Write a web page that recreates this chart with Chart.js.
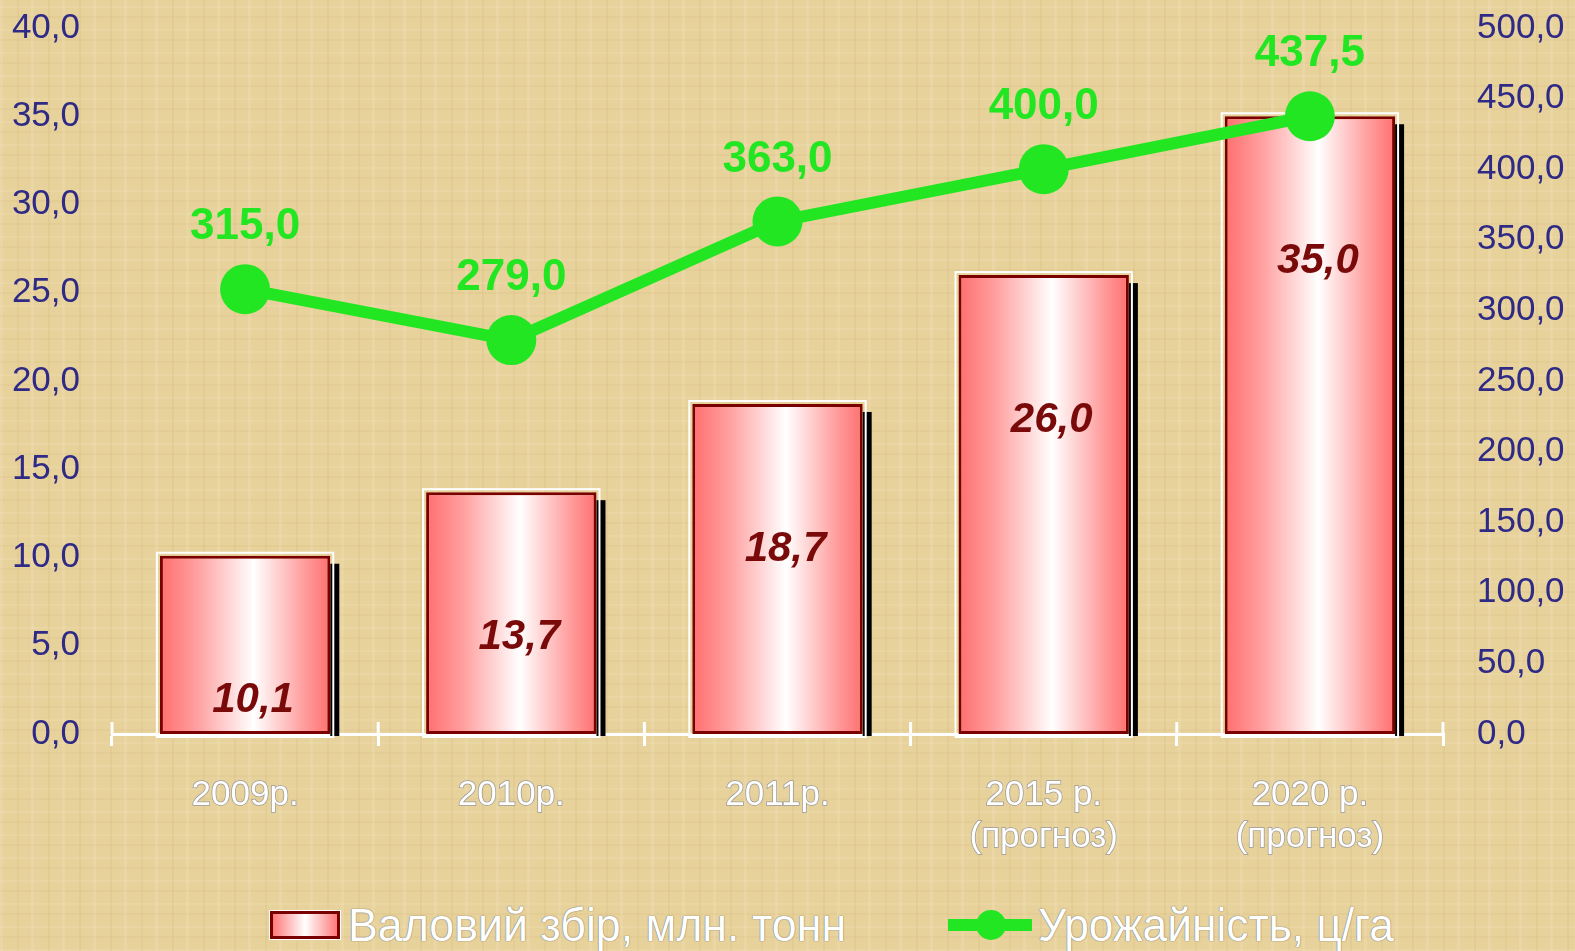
<!DOCTYPE html>
<html lang="uk">
<head>
<meta charset="UTF-8">
<title>Валовий збір та урожайність</title>
<style>
    html, body {
        margin: 0;
        padding: 0;
        width: 1575px;
        height: 951px;
        overflow: hidden;
    }
    body {
        position: relative;
        background-color: #e8d29b;
        background-image:
            repeating-linear-gradient(90deg, rgba(255,255,255,0.10) 0 3px, rgba(0,0,0,0) 3px 17px, rgba(150,110,40,0.06) 17px 19px, rgba(0,0,0,0) 19px 31px),
            repeating-linear-gradient(0deg, rgba(255,255,255,0.08) 0 2px, rgba(0,0,0,0) 2px 13px, rgba(150,110,40,0.05) 13px 15px, rgba(0,0,0,0) 15px 23px);
        font-family: Arial, "Liberation Sans", sans-serif;
    }
    #chart {
        position: absolute;
        left: 0;
        top: 0;
    }
    .legend-item {
        position: absolute;
        top: 898px;
        height: 54px;
        display: flex;
        align-items: center;
        color: #ffffff;
        font-family: Arial, "Liberation Sans", sans-serif;
        font-size: 46px;
        white-space: nowrap;
        text-shadow: 0 0 1px #6f6f6f, 0 0 1px #6f6f6f;
    }
    .legend-item .txt {
        display: inline-block;
        transform-origin: left center;
    }
    .box {
        width: 64px;
        height: 22px;
        border: 3px solid #7a0000;
        background: linear-gradient(90deg, #ff7a7a 0%, #ffffff 50%, #ff7a7a 100%);
        margin-right: 8px;
        box-shadow: 0 0 0 1px #ffffff;
        flex: none;
    }
    .line-sym {
        position: relative;
        width: 84px;
        height: 30px;
        margin-right: 6px;
        flex: none;
    }
    .line-sym::before {
        content: "";
        position: absolute;
        left: 0;
        right: 0;
        top: 9px;
        height: 12px;
        background: #22e622;
    }
    .line-sym::after {
        content: "";
        position: absolute;
        left: 28px;
        top: 0;
        width: 30px;
        height: 30px;
        border-radius: 50%;
        background: #22e622;
    }
</style>
</head>
<body>
<canvas id="chart" width="1575" height="890"></canvas>
<div class="legend-item" style="left: 270px;"><span class="box"></span><span class="txt" data-w="498">Валовий збір, млн. тонн</span></div>
<div class="legend-item" style="left: 948px;"><span class="line-sym"></span><span class="txt" data-w="356">Урожайність, ц/га</span></div>

<script src="https://cdn.jsdelivr.net/npm/chart.js"></script>
<script>
    const categories = [['2009р.'], ['2010р.'], ['2011р.'], ['2015 р.', '(прогноз)'], ['2020 р.', '(прогноз)']];
    const grossHarvest = [10.1, 13.7, 18.7, 26.0, 35.0];   // млн. тонн
    const yieldValues = [315.0, 279.0, 363.0, 400.0, 437.5]; // ц/га
    const leftTicks = [0, 5, 10, 15, 20, 25, 30, 35, 40];
    const rightTicks = [0, 50, 100, 150, 200, 250, 300, 350, 400, 450, 500];

    const GREEN = '#22e622';
    const NAVY = '#2e2a86';
    const DARK_RED = '#7a0a0a';
    const BAR_PCT = 0.64;

    function fmt(v) {
        return v.toFixed(1).replace('.', ',');
    }

    // легенда: стиснути текст до потрібної ширини (вузький шрифт як в оригіналі)
    document.querySelectorAll('.legend-item .txt').forEach(function(el) {
        const target = Number(el.dataset.w);
        const actual = el.getBoundingClientRect().width;
        if (actual > 0) el.style.transform = 'scaleX(' + (target / actual).toFixed(3) + ')';
    });

    // горизонтальний градієнт для кожного стовпця
    function barGradient(context) {
        const chart = context.chart;
        const x = chart.scales.x;
        if (!chart.chartArea || !x || context.dataIndex === undefined) {
            return '#ff8080';
        }
        const cx = x.getPixelForValue(context.dataIndex);
        const w = x.width / categories.length * BAR_PCT;
        const g = chart.ctx.createLinearGradient(cx - w / 2, 0, cx + w / 2, 0);
        g.addColorStop(0, '#ff6e6e');
        g.addColorStop(0.22, '#ffa0a0');
        g.addColorStop(0.55, '#ffffff');
        g.addColorStop(0.85, '#ff9c9c');
        g.addColorStop(1, '#ff7070');
        return g;
    }

    // тінь і біла рамка стовпців
    const barDecor = {
        id: 'barDecor',
        beforeDatasetDraw(chart, args) {
            if (args.index !== 0) return;
            const ctx = chart.ctx;
            ctx.save();
            ctx.fillStyle = '#000000';
            args.meta.data.forEach(function(el) {
                const right = el.x + el.width / 2;
                ctx.fillRect(right, el.y + 8, 9, el.base - el.y - 6);
            });
            ctx.restore();
        },
        afterDatasetDraw(chart, args) {
            if (args.index !== 0) return;
            const ctx = chart.ctx;
            ctx.save();
            ctx.strokeStyle = '#ffffff';
            ctx.lineWidth = 2;
            args.meta.data.forEach(function(el) {
                const w = el.width;
                ctx.strokeRect(el.x - w / 2 - 3, el.y - 3, w + 6, el.base - el.y + 6);
            });
            ctx.restore();
        }
    };

    // підписи значень
    const valueLabels = {
        id: 'valueLabels',
        afterDatasetsDraw(chart) {
            const ctx = chart.ctx;
            ctx.save();
            ctx.textAlign = 'center';
            ctx.textBaseline = 'middle';

            ctx.font = 'italic bold 42px Arial';
            ctx.fillStyle = DARK_RED;
            chart.getDatasetMeta(0).data.forEach(function(el, i) {
                ctx.fillText(fmt(grossHarvest[i]), el.x + 8, el.y + 145);
            });

            ctx.font = 'bold 44px Arial';
            ctx.fillStyle = GREEN;
            chart.getDatasetMeta(1).data.forEach(function(el, i) {
                ctx.fillText(fmt(yieldValues[i]), el.x, el.y - 62);
            });
            ctx.restore();
        }
    };

    // засічки на осі X (вгору від лінії)
    const axisTicksUp = {
        id: 'axisTicksUp',
        afterDraw(chart) {
            const x = chart.scales.x;
            const ctx = chart.ctx;
            const n = categories.length;
            ctx.save();
            ctx.strokeStyle = '#ffffff';
            ctx.lineWidth = 3;
            for (let i = 0; i <= n; i++) {
                const px = x.left + x.width * i / n;
                ctx.beginPath();
                ctx.moveTo(px, x.top - 12);
                ctx.lineTo(px, x.top);
                ctx.stroke();
            }
            ctx.restore();
        }
    };

    function fitY(width) {
        return function(scale) {
            scale.width = width;
            // padding тиків не повинен зсувати область графіка вниз
            scale.paddingTop = 0;
            scale.paddingBottom = 0;
        };
    }

    const ctx = document.getElementById('chart').getContext('2d');
    const chart = new Chart(ctx, {
        data: {
            labels: categories,
            datasets: [{
                type: 'bar',
                label: 'Валовий збір, млн. тонн',
                data: grossHarvest,
                yAxisID: 'y',
                backgroundColor: barGradient,
                borderColor: '#7a0000',
                borderWidth: 3,
                borderSkipped: false,
                barPercentage: BAR_PCT,
                categoryPercentage: 1,
                order: 1
            }, {
                type: 'line',
                label: 'Урожайність, ц/га',
                data: yieldValues,
                yAxisID: 'y1',
                borderColor: GREEN,
                backgroundColor: GREEN,
                borderWidth: 12,
                pointRadius: 25,
                pointHoverRadius: 25,
                pointBackgroundColor: GREEN,
                pointBorderWidth: 0,
                tension: 0,
                order: 0
            }]
        },
        options: {
            responsive: false,
            animation: false,
            layout: {
                padding: { top: 28, left: 0, right: 0, bottom: 0 }
            },
            plugins: {
                legend: { display: false },
                tooltip: { enabled: false }
            },
            scales: {
                x: {
                    offset: true,
                    grid: {
                        offset: true,
                        drawOnChartArea: false,
                        drawTicks: true,
                        tickLength: 12,
                        color: '#ffffff',
                        lineWidth: 3
                    },
                    border: { display: true, color: '#ffffff', width: 3 },
                    ticks: {
                        color: '#ffffff',
                        font: { family: 'Arial', size: 35 },
                        lineHeight: 1.38,
                        padding: 28,
                        maxRotation: 0,
                        textStrokeColor: '#9a9a9a',
                        textStrokeWidth: 1.5
                    },
                    afterFit(scale) {
                        scale.height = 890 - 734;
                        scale.paddingLeft = 0;
                        scale.paddingRight = 0;
                    }
                },
                y: {
                    position: 'left',
                    min: 0,
                    max: 40,
                    afterBuildTicks(scale) {
                        scale.ticks = leftTicks.map(v => ({ value: v }));
                    },
                    grid: { display: false, drawTicks: false },
                    border: { display: false },
                    ticks: {
                        color: NAVY,
                        font: { family: 'Arial', size: 35 },
                        padding: 32,
                        callback: v => fmt(v)
                    },
                    afterFit: fitY(112)
                },
                y1: {
                    position: 'right',
                    min: 0,
                    max: 500,
                    afterBuildTicks(scale) {
                        scale.ticks = rightTicks.map(v => ({ value: v }));
                    },
                    grid: { display: false, drawTicks: false },
                    border: { display: false },
                    ticks: {
                        color: NAVY,
                        font: { family: 'Arial', size: 35 },
                        padding: 34,
                        callback: v => fmt(v)
                    },
                    afterFit: fitY(132)
                }
            }
        },
        plugins: [barDecor, valueLabels, axisTicksUp]
    });
</script>
</body>
</html>
